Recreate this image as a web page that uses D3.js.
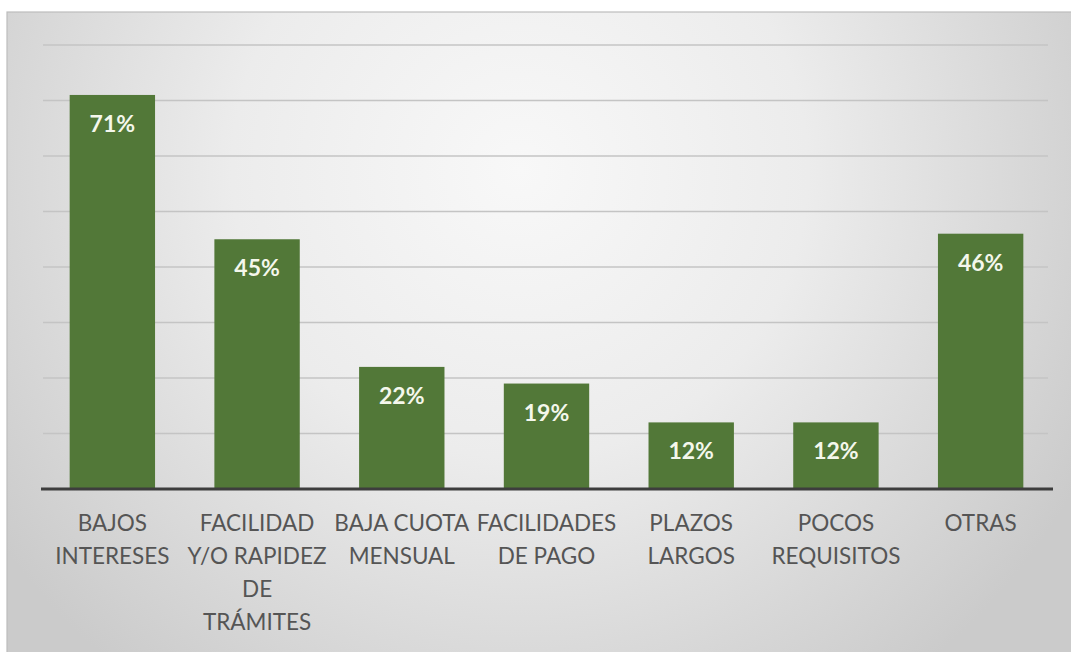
<!DOCTYPE html>
<html>
<head>
<meta charset="utf-8">
<script src="https://cdn.jsdelivr.net/npm/d3@7"></script>
<style>
  html, body { margin: 0; padding: 0; background: #ffffff; }
  svg { display: block; }
</style>
</head>
<body>
<svg id="chart" width="1071" height="652"></svg>
<script>
// Reasons given (share of respondents, %)
const categories = [
  "BAJOS INTERESES",
  "FACILIDAD Y/O RAPIDEZ DE TRÁMITES",
  "BAJA CUOTA MENSUAL",
  "FACILIDADES DE PAGO",
  "PLAZOS LARGOS",
  "POCOS REQUISITOS",
  "OTRAS"
];
const categoryLines = [
  ["BAJOS", "INTERESES"],
  ["FACILIDAD", "Y/O RAPIDEZ", "DE", "TRÁMITES"],
  ["BAJA CUOTA", "MENSUAL"],
  ["FACILIDADES", "DE PAGO"],
  ["PLAZOS", "LARGOS"],
  ["POCOS", "REQUISITOS"],
  ["OTRAS"]
];
const values = [71, 45, 22, 19, 12, 12, 46];
const gridTicks = [10, 20, 30, 40, 50, 60, 70, 80];

const svg = d3.select("#chart");
const W = 1071, H = 652;

// Chart area background: soft radial gradient
const defs = svg.append("defs");
const grad = defs.append("radialGradient")
  .attr("id", "bg")
  .attr("gradientUnits", "userSpaceOnUse")
  .attr("cx", 520).attr("cy", 170).attr("r", 640);
grad.append("stop").attr("offset", "0%").attr("stop-color", "#f8f8f8");
grad.append("stop").attr("offset", "45%").attr("stop-color", "#ececec");
grad.append("stop").attr("offset", "100%").attr("stop-color", "#cbcbcb");

svg.append("rect")
  .attr("x", 7).attr("y", 12)
  .attr("width", W - 7 + 2).attr("height", H - 12 + 2)
  .attr("fill", "url(#bg)")
  .attr("stroke", "#bdbdbd")
  .attr("stroke-width", 1.2);

const x = d3.scaleBand()
  .domain(categories)
  .range([40, 1053])
  .paddingInner(0.41)
  .paddingOuter(0.205);

const y = d3.scaleLinear()
  .domain([0, 80])
  .range([489, 45]);

// Horizontal gridlines
svg.append("g")
  .selectAll("line")
  .data(gridTicks)
  .join("line")
  .attr("x1", 43).attr("x2", 1048)
  .attr("y1", d => y(d)).attr("y2", d => y(d))
  .attr("stroke", "#c4c4c4")
  .attr("stroke-width", 1.4);

// Bars
svg.append("g")
  .selectAll("rect")
  .data(values)
  .join("rect")
  .attr("x", (d, i) => x(categories[i]))
  .attr("width", x.bandwidth())
  .attr("y", d => y(d))
  .attr("height", d => y(0) - y(d))
  .attr("fill", "#527838");

// Baseline
svg.append("line")
  .attr("x1", 41).attr("x2", 1053)
  .attr("y1", y(0)).attr("y2", y(0))
  .attr("stroke", "#3d3d3d")
  .attr("stroke-width", 3);

// Value labels inside bars
svg.append("g")
  .selectAll("text")
  .data(values)
  .join("text")
  .attr("x", (d, i) => x(categories[i]) + x.bandwidth() / 2)
  .attr("y", d => y(d) + 37)
  .attr("text-anchor", "middle")
  .attr("font-family", "Lato, 'Open Sans', sans-serif")
  .attr("font-size", 23)
  .attr("font-weight", 700)
  .attr("fill", "#f4f7ec")
  .text(d => d + "%");

// Category labels below the axis
const catG = svg.append("g");
categoryLines.forEach((lines, i) => {
  const t = catG.append("text")
    .attr("x", x(categories[i]) + x.bandwidth() / 2)
    .attr("y", 531)
    .attr("text-anchor", "middle")
    .attr("font-family", "Lato, 'Open Sans', sans-serif")
    .attr("font-size", 22.5)
    .attr("fill", "#555555");
  lines.forEach((ln, j) => {
    t.append("tspan")
      .attr("x", x(categories[i]) + x.bandwidth() / 2)
      .attr("dy", j === 0 ? 0 : 33)
      .text(ln);
  });
});
</script>
</body>
</html>
